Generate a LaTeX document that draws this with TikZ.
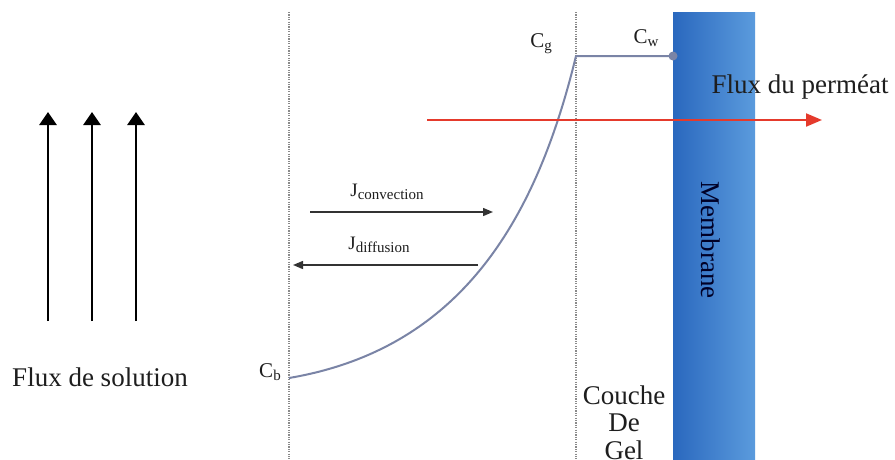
\documentclass[tikz,border=0pt]{standalone}
\usepackage{fontspec}
\setmainfont{Liberation Serif}
\usetikzlibrary{arrows.meta}
\definecolor{curvecol}{HTML}{7A84A6}
\definecolor{dotcol}{HTML}{8A8A8A}
\definecolor{memleft}{HTML}{2A68BE}
\definecolor{memright}{HTML}{5B9BDD}
\definecolor{redarrow}{HTML}{E53A2C}
\definecolor{txt}{HTML}{1E1E1E}
\tikzset{
  bigtext/.style={font=\fontsize{27}{27}\selectfont, text=txt, inner sep=0pt},
  jtext/.style={font=\fontsize{19}{19}\selectfont, text=txt, inner sep=0pt},
  ctext/.style={font=\fontsize{21}{21}\selectfont, text=txt, inner sep=0pt},
  boundary/.style={dotcol, line width=1.8pt, dash pattern=on 1.2pt off 1.2pt},
  flowarrow/.style={black, line width=2.8pt, -{Triangle[length=13pt,width=17pt]}},
  jarrow/.style={black!80, line width=1.4pt, -{Triangle[length=10pt,width=8pt]}},
  conc/.style={curvecol, line width=2pt}
}
\newcommand{\subtxt}[1]{\raisebox{-3pt}{\fontsize{15}{15}\selectfont #1}}
\begin{document}
\begin{tikzpicture}[x=1pt,y=-1pt]
\useasboundingbox (0,0) rectangle (895,459);
\fill[white] (0,0) rectangle (895,459);
% membrane
\shade[left color=memleft, right color=memright] (673,12) rectangle (755,459);
\node[bigtext, rotate=-90, text=black!85!blue] (mem) at (711,240) {Membrane};
% boundaries
\coordinate (b1t) at (289,12); \coordinate (b1b) at (289,459);
\coordinate (b2t) at (576,12); \coordinate (b2b) at (576,459);
\draw[boundary] (b1t) -- (b1b);
\draw[boundary] (b2t) -- (b2b);
% concentration profile
\coordinate (cb) at (289,378);
\coordinate (cg) at (576,56);
\coordinate (cw) at (673,56);
\draw[conc, line join=round] (cb) .. controls (466,348) and (538,212) .. (cg) -- (cw);
\fill[curvecol] (cw) circle (4.5pt);
\node[ctext] (lcb) at (270,372) {C\subtxt{b}};
\node[ctext] (lcg) at (541,44) {C\subtxt{g}};
\node[ctext] (lcw) at (646,38) {C\subtxt{w}};
% permeate flux
\coordinate (r1) at (427,120); \coordinate (r2) at (822,120);
\draw[redarrow, line width=2pt, -{Triangle[length=16pt,width=13pt]}] (r1) -- (r2);
\node[bigtext] (perm) at (800,87) {Flux du perméat};
% J arrows
\coordinate (jc1) at (310,212); \coordinate (jc2) at (493,212);
\coordinate (jd1) at (478,265); \coordinate (jd2) at (293,265);
\draw[jarrow] (jc1) -- (jc2);
\draw[jarrow] (jd1) -- (jd2);
\node[jtext] (ljc) at (387,192) {J\subtxt{convection}};
\node[jtext] (ljd) at (379,245) {J\subtxt{diffusion}};
% solution flux arrows
\foreach \x [count=\i] in {48,92,136}{
  \coordinate (fa\i) at (\x,321);
  \coordinate (fb\i) at (\x,112);
  \draw[flowarrow] (fa\i) -- (fb\i);
}
\node[bigtext] (sol) at (100,377) {Flux de solution};
% gel layer
\node[bigtext] (gel1) at (624,395) {Couche};
\node[bigtext] (gel2) at (624,423) {De};
\node[bigtext] (gel3) at (624,450) {Gel};
\end{tikzpicture}
\end{document}
